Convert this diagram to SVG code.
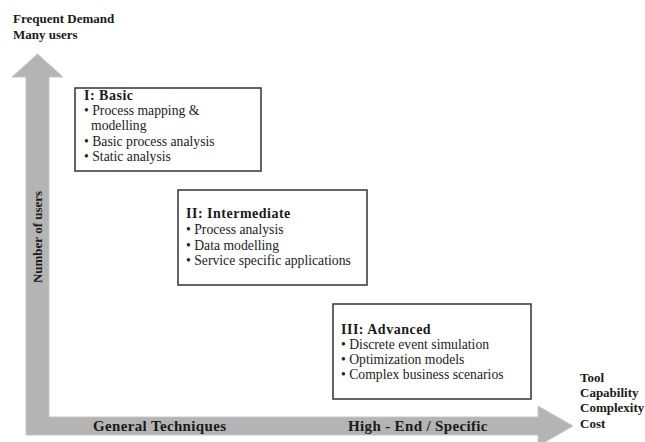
<svg xmlns="http://www.w3.org/2000/svg" width="645" height="442" viewBox="0 0 645 442">
<defs>
<style>
.lbl{font-family:"Liberation Serif","Times New Roman",serif;font-weight:bold;font-size:13px;fill:#1a1a1a}
.big{font-family:"Liberation Serif","Times New Roman",serif;font-weight:bold;font-size:15px;fill:#1a1a1a;letter-spacing:0.35px}
.ttl{font-family:"Liberation Serif","Times New Roman",serif;font-weight:bold;font-size:14px;fill:#1a1a1a;letter-spacing:0.5px}
.itm{font-family:"Liberation Serif","Times New Roman",serif;font-size:13.7px;fill:#222}
.box{fill:#fff;stroke:#333;stroke-width:1.5}
</style>
</defs>
<rect width="645" height="442" fill="#fff"/>
<g id="axes">
<path d="M37.5,54 L63,77 L49,77 L49,417 L538,417 L538,406 L573,426 L538,446 L538,435 L26,435 L26,77 L12,77 Z" fill="#b4b4b4" stroke="#c6c6c6" stroke-width="1"/>
</g>
<g id="axis-labels">
<text class="lbl" x="13" y="23">Frequent Demand</text>
<text class="lbl" x="13" y="39">Many users</text>
<text class="lbl" transform="translate(42,237) rotate(-90)" text-anchor="middle">Number of users</text>
<text class="big" x="93" y="431">General Techniques</text>
<text class="big" x="348" y="431">High - End / Specific</text>
<text class="lbl" x="580" y="382">Tool</text>
<text class="lbl" x="580" y="397">Capability</text>
<text class="lbl" x="580" y="412">Complexity</text>
<text class="lbl" x="580" y="428">Cost</text>
</g>
<g id="basic">
<rect class="box" x="75" y="88" width="186" height="83"/>
<text class="ttl" x="84" y="100">I: Basic</text>
<text class="itm" x="84" y="115">• Process mapping &amp;</text>
<text class="itm" x="91" y="130">modelling</text>
<text class="itm" x="84" y="146">• Basic process analysis</text>
<text class="itm" x="84" y="161">• Static analysis</text>
</g>
<g id="intermediate">
<rect class="box" x="178" y="190" width="189" height="95"/>
<text class="ttl" x="186" y="218">II: Intermediate</text>
<text class="itm" x="186" y="234">• Process analysis</text>
<text class="itm" x="186" y="250">• Data modelling</text>
<text class="itm" x="186" y="265">• Service specific applications</text>
</g>
<g id="advanced">
<rect class="box" x="333" y="304" width="198" height="95"/>
<text class="ttl" x="341" y="334">III: Advanced</text>
<text class="itm" x="341" y="349">• Discrete event simulation</text>
<text class="itm" x="341" y="364">• Optimization models</text>
<text class="itm" x="341" y="379">• Complex business scenarios</text>
</g>
<g id="connectors"></g>
</svg>
